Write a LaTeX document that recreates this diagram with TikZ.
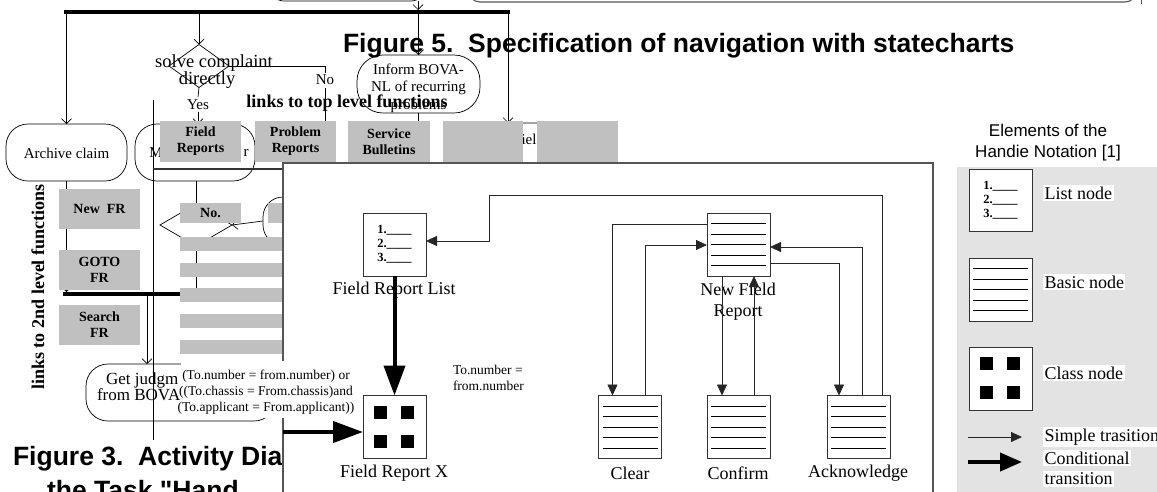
\documentclass[tikz,border=0pt]{standalone}
\usepackage{fontspec}
\setmainfont{Liberation Serif}
\newfontfamily\arialf{Liberation Sans}
\usetikzlibrary{arrows.meta,shapes.geometric}
\definecolor{linkgray}{HTML}{C0C0C0}
\definecolor{leggray}{HTML}{E3E3E3}
\definecolor{panelline}{HTML}{555555}
\newcommand\fsz[2]{\fontsize{#1pt}{#2pt}\selectfont}
\newcommand\basiclines[1]{\foreach \o in {10.5,21,31.5,42,52.5}{\draw[line width=0.8pt] ([xshift=4pt]#1.north west) ++(0,\o) -- ++(55,0);}}
\newcommand\classsq[1]{\foreach \dx/\dy in {11/10,38/10,11/39,38/39}{\fill ([shift={(\dx,\dy)}]#1.north west) rectangle ++(13,13);}}
\begin{document}
\begin{tikzpicture}[x=1pt,y=-1pt,
  every node/.style={inner sep=0pt, outer sep=0pt},
  actline/.style={line width=0.7pt},
  actarrow/.style={line width=0.7pt,-{Straight Barb[length=5pt,width=10pt]}},
  actbox/.style={draw, line width=0.7pt, rounded corners=22pt},
  linkbox/.style={fill=linkgray, align=center, font=\fsz{14}{16}\bfseries},
  actlabel/.style={font=\fsz{15}{17.5}},
  simplearrow/.style={line width=0.8pt, draw=black!85, -{Triangle[length=11pt,width=10pt]}},
  condarrow/.style={line width=4pt, -{Triangle[length=30pt,width=21pt]}},
  hnode/.style={draw=black!80, line width=0.8pt, fill=white, minimum width=63pt, minimum height=63pt},
  listtext/.style={align=left, font=\fsz{12.5}{14}\bfseries},
  nlabel/.style={font=\fsz{18}{21}, align=center},
  leglabel/.style={font=\fsz{18}{20}, fill=white, inner sep=1.5pt, anchor=west},
  capt/.style={font=\arialf\bfseries\fsz{26.5}{30}, anchor=base west},
]
\useasboundingbox (0,0) rectangle (1157,491);

% ---------- partial shapes at the top ----------
\draw[panelline, line width=1.1pt, rounded corners=12pt] (468,-60) rectangle (1137,2);
\draw[panelline, line width=1pt] (1141,-5) -- (1141,4);
\draw[actline, rounded corners=14pt] (270,-60) rectangle (425,1);

% ---------- activity diagram (Figure 3) ----------
\coordinate (topAout) at (418,1);
\coordinate (barL) at (64,12);
\coordinate (barR) at (510,12);
\coordinate (frIn) at (508,123);
\coordinate (vtop) at (153,100);
\coordinate (vbot) at (153,440);
\coordinate (hl1) at (153,169);
\coordinate (hl1e) at (283,169);
\coordinate (bar2L) at (63,294);
\coordinate (bar2R) at (290,294);
\coordinate (gjIn) at (147,364);
\coordinate (condin) at (283,432);

\node[actbox] (archive) at (66.5,152.5) [minimum width=121pt, minimum height=57pt] {};
\node[actlabel] (archivet) at (66.5,153) {Archive claim};
\node[actbox] (manage) at (195,152.5) [minimum width=120pt, minimum height=57pt] {};
\node[actlabel] (manM) at (156,153) {M};
\node[actlabel] (manR) at (246,153) {r};
\node[draw, diamond, line width=0.7pt, minimum width=60pt, minimum height=43pt] (dia1) at (199,66) {};
\node[font=\fsz{18.5}{20}] (dia1a) at (214,63) {solve complaint};
\node[font=\fsz{18.5}{20}] (dia1b) at (207,80) {directly};
\node[actbox, rounded corners=26pt] (inform) at (418.5,84) [minimum width=123pt, minimum height=58pt] {};
\node[align=center, font=\fsz{15}{17.5}] (informt) at (418.5,88) {Inform BOVA-\\NL of recurring\\problems};
\node[actbox] (fieldrep) at (527.5,151.5) [minimum width=145pt, minimum height=57pt] {};
\node[actlabel] (fieldrept) at (529,139) {iel};
\node[draw, diamond, line width=0.7pt, minimum width=72pt, minimum height=42pt] (dia2) at (196,225) {};
\node[actbox, rounded corners=20pt] (cshape) at (311.5,221) [minimum width=97pt, minimum height=48pt] {};
\node[actbox] (getj) at (181,392.5) [minimum width=190pt, minimum height=57pt] {};
\node[font=\fsz{17}{19}, anchor=west] (getja) at (106,380) {Get judgm};
\node[font=\fsz{17}{19}, anchor=west] (getjb) at (97,395) {from BOVA};
\node[actlabel] (nolbl) at (325,80) {No};
\node[actlabel] (yeslbl) at (198,105) {Yes};

\draw[line width=4pt] (barL) -- (barR);
\draw[actarrow] (topAout) -- ([yshift=2pt]topAout |- barL);
\draw[actarrow] (archive.north |- barL) -- (archive.north);
\draw[actarrow] (dia1.north |- barL) -- (dia1.north);
\draw[actarrow] (inform.north |- barL) -- (inform.north);
\draw[actarrow] (frIn |- barL) -- (frIn);
\draw[actline] (dia1.east) -| ([yshift=2pt]nolbl.north);
\draw[actline] ([yshift=-3pt]nolbl.south) -- (nolbl.south |- 0,125);
\draw[actline] (dia1.south) -- ([yshift=3pt]yeslbl.north);
\draw[actarrow] ([yshift=-2pt]yeslbl.south) -- (yeslbl.south |- manage.north);
\draw[actline] (inform.south) -- (inform.south |- hl1e);
\draw[actline] (vtop) -- (vbot);
\draw[line width=1.8pt, black!80] (hl1) -- (hl1e);
\draw[actline] (dia2.north |- manage.south) -- (dia2.north);
\draw[actline] (dia2.south) -- (dia2.south |- bar2L);
\draw[line width=3.5pt] (bar2L) -- (bar2R);
\draw[actarrow] (archive.south) -- ([yshift=2pt]archive.south |- bar2L);
\draw[actarrow] (gjIn |- bar2L) -- (gjIn);
\draw[actarrow] (cshape.west) -- (dia2.east);

% captions
\node[capt] (cap5) at (343,52) {Figure 5.\ \ Specification of navigation with statecharts};
\node[capt] (cap3a) at (13,465) {Figure 3.\ \ Activity Dia};
\node[capt] (cap3b) at (47,499) {the Task "Hand};

% ---------- gray link boxes ----------
\node[linkbox, minimum width=81pt, minimum height=41pt] (bFR) at (200.5,141.5) {Field\\Reports};
\node[linkbox, minimum width=81pt, minimum height=41pt] (bPR) at (295.5,141.5) {Problem\\Reports};
\node[linkbox, minimum width=82pt, minimum height=41pt] (bSB) at (389,141.5) {Service\\Bulletins};
\node[linkbox, minimum width=80pt, minimum height=41pt] (bX1) at (483,141.5) {};
\node[linkbox, minimum width=81pt, minimum height=41pt] (bX2) at (577.5,141.5) {};
\node[linkbox, minimum width=81pt, minimum height=40pt] (bNew) at (99.5,209) {New\ \ FR};
\node[linkbox, minimum width=81pt, minimum height=40pt] (bGoto) at (99.5,270) {GOTO\\FR};
\node[linkbox, minimum width=81pt, minimum height=40pt] (bSearch) at (99.5,325) {Search\\FR};
\node[linkbox, minimum width=61pt, minimum height=20pt] (bNo) at (210.5,213) {No.};
\node[linkbox, minimum width=32pt, minimum height=20pt] (bC) at (284,213) {};
\node[font=\fsz{14}{16}\bfseries] (bCt) at (287,213) {C};
\foreach \yy [count=\i] in {244,269.5,295,320.5,346.5}
  \node[fill=linkgray, minimum width=120pt, minimum height=14pt] (gbar\i) at (240,\yy) {};
\node[font=\fsz{18}{20}\bfseries] (ltop) at (347,103) {links to top level functions};
\node[font=\fsz{18}{20}\bfseries, rotate=90] (l2nd) at (38,287) {links to 2nd level functions};

% ---------- statechart panel (Figure 5) ----------
\draw[panelline, line width=1.2pt, fill=white] (283,163) rectangle (933,520);

\node[hnode] (frl) at (394.5,244.5) {};
\node[listtext] (frlt) at (394.5,244) {1.\_\_\_\_\\2.\_\_\_\_\\3.\_\_\_\_};
\node[nlabel] (frll) at (394,290) {Field Report List};
\node[hnode] (frx) at (394.5,427) {};
\classsq{frx}
\node[nlabel] (frxl) at (394,473) {Field Report X};

\node[hnode] (nfr) at (738.5,244.5) {};
\basiclines{nfr}
\node[nlabel] (nfrl) at (738,302) {New Field\\Report};
\node[hnode] (clear) at (630,427) {};
\basiclines{clear}
\node[nlabel] (clearl) at (630,473) {Clear};
\node[hnode] (confirm) at (738.5,427) {};
\basiclines{confirm}
\node[nlabel] (confirml) at (738,473) {Confirm};
\node[hnode] (ack) at (858.5,427) {};
\basiclines{ack}
\node[nlabel] (ackl) at (858,473) {Acknowledge};

\node[align=left, font=\fsz{13.5}{16}, anchor=west] (cond2) at (453,378) {To.number =\\from.number};

\coordinate (loopcorner) at (489,195);
\draw[condarrow] (frl.south) -- (frx.north);
\draw[condarrow] (condin) -- (condin -| frx.west);
\draw[simplearrow] ([yshift=-11pt]nfr.north west) -| ([xshift=14pt]clear.north west);
\draw[simplearrow] ([xshift=47pt]clear.north west) |- ([yshift=-32pt]nfr.north west);
\draw[simplearrow] ([xshift=15pt]nfr.south west) -- ([xshift=15pt]confirm.north west);
\draw[simplearrow] ([xshift=47pt]confirm.north west) -- ([xshift=47pt]nfr.south west);
\draw[simplearrow] ([yshift=-50pt]nfr.north east) -| ([xshift=12pt]ack.north west);
\draw[simplearrow] ([xshift=35pt]ack.north west) |- ([yshift=-34pt]nfr.north east);
\draw[simplearrow] ([xshift=55pt]ack.north west) |- (loopcorner) |- ([yshift=-28pt]frl.north east);

% condition label over the panel edge
\fill[white] (181,361) rectangle (354,418);
\node[align=center, font=\fsz{13.5}{15.8}] (cond1) at (266,392) {(To.number = from.number) or\\((To.chassis = From.chassis)and\\(To.applicant = From.applicant))};

% ---------- legend ----------
\node[font=\arialf\fsz{17}{21}, align=center] (legt) at (1048,143) {Elements of the\\Handie Notation [1]};
\fill[leggray] (957,167) rectangle (1160,495);
\node[hnode, minimum height=62pt] (lgList) at (1000.5,200) {};
\node[listtext] (lgListt) at (1000.5,200) {1.\_\_\_\_\\2.\_\_\_\_\\3.\_\_\_\_};
\node[leglabel] (lgListl) at (1043,193) {List node};
\node[hnode] (lgBasic) at (1000.5,289.5) {};
\basiclines{lgBasic}
\node[leglabel] (lgBasicl) at (1043,282) {Basic node};
\node[hnode] (lgClass) at (1000.5,378.5) {};
\classsq{lgClass}
\node[leglabel] (lgClassl) at (1043,373) {Class node};
\coordinate (lgS1) at (968,437);
\coordinate (lgS2) at (1022,437);
\draw[simplearrow] (lgS1) -- (lgS2);
\node[leglabel] (lgSl) at (1043,437) {Simple trasition};
\coordinate (lgC1) at (968,462);
\coordinate (lgC2) at (1022,462);
\draw[line width=4pt, -{Triangle[length=22pt,width=18pt]}] (lgC1) -- (lgC2);
\node[leglabel] (lgCl1) at (1043,458) {Conditional};
\node[leglabel] (lgCl2) at (1043,479) {transition};
\end{tikzpicture}
\end{document}
